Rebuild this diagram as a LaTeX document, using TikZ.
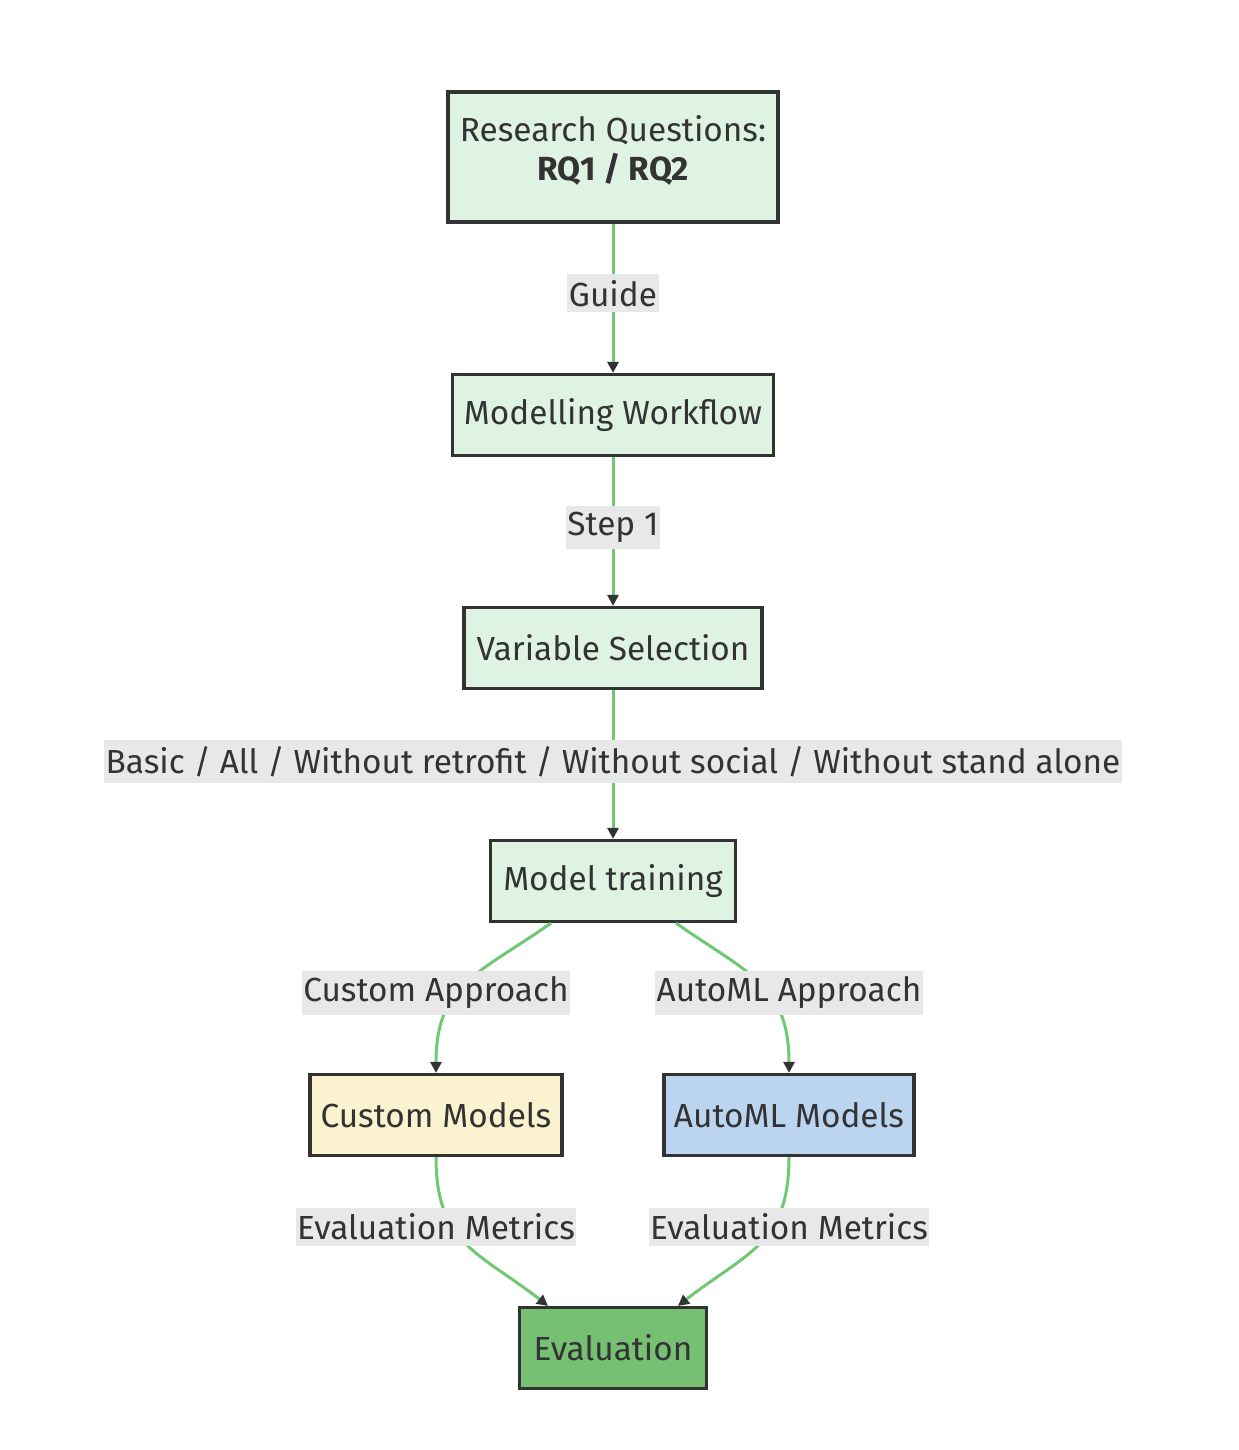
\documentclass[tikz,border=0pt]{standalone}
\usepackage{fontspec}
\setmainfont{Fira Sans}
\usetikzlibrary{positioning,arrows.meta}
\definecolor{boxgreen}{HTML}{DEF3E2}
\definecolor{boxyellow}{HTML}{FBF2CF}
\definecolor{boxblue}{HTML}{BBD5F0}
\definecolor{boxdark}{HTML}{76C074}
\definecolor{boxline}{HTML}{333333}
\definecolor{linkgreen}{HTML}{70C875}
\definecolor{lblgray}{HTML}{E8E8E8}
\definecolor{txt}{HTML}{333333}
\newcommand{\flowfont}{\fontsize{19}{22}\selectfont}

\begin{document}
\begin{tikzpicture}[x=0.02cm,y=-0.02cm,
    box/.style={draw=boxline,line width=0.065cm,fill=boxgreen,minimum height=1.62cm,
      inner xsep=0.1cm,text=txt,font=\flowfont},
    lbl/.style={fill=lblgray,inner xsep=0.03cm,minimum height=0.74cm,text=txt,font=\flowfont},
    link/.style={draw=linkgreen,line width=0.06cm,
      -{Triangle[length=0.22cm,width=0.22cm,color=boxline]}}]
    \useasboundingbox (0,0) rectangle (1238,1450);

    % boxes
    \node[box,minimum width=6.6cm,minimum height=2.6cm,align=center] (rq) at (613,157) {Research Questions:\\\textbf{RQ1 / RQ2}\\[-0.4cm]};
    \node[box,minimum width=6.42cm] (flow) at (613,415) {Modelling Workflow};
    \node[box,minimum width=5.96cm] (varsel) at (613,648) {Variable Selection};
    \node[box,minimum width=4.9cm] (train) at (613,881) {Model training};
    \node[box,minimum width=5.04cm,fill=boxyellow] (custom) at (436,1115) {Custom Models};
    \node[box,minimum width=5cm,fill=boxblue] (automl) at (789,1115) {AutoML Models};
    \node[box,minimum width=3.74cm,fill=boxdark] (eval) at (613,1348) {Evaluation};

    % straight links
    \draw[link] (rq) -- node[lbl,yshift=0.1cm]{Guide} (flow);
    \draw[link] (flow) -- node[lbl,yshift=0.08cm]{Step 1} (varsel);
    \draw[link] (varsel) -- node[lbl,yshift=0.06cm]{Basic / All / Without retrofit / Without social / Without stand alone} (train);

    % the two approaches
    \draw[link] ([xshift=-1.24cm]train.south) to[out=-145,in=90,looseness=1.2] (custom.north);
    \draw[link] ([xshift=1.26cm]train.south) to[out=-35,in=90,looseness=1.2] (automl.north);
    \draw[link] (custom.south) to[out=-90,in=142,looseness=1.2] ([xshift=-1.3cm]eval.north);
    \draw[link] (automl.south) to[out=-90,in=38,looseness=1.2] ([xshift=1.3cm]eval.north);
    \node[lbl] (lcustom) at (436,993) {Custom Approach};
    \node[lbl] (lautoml) at (789,993) {AutoML Approach};
    \node[lbl] (lmetric1) at (436,1227) {Evaluation Metrics};
    \node[lbl] (lmetric2) at (789,1227) {Evaluation Metrics};
\end{tikzpicture}
\end{document}
